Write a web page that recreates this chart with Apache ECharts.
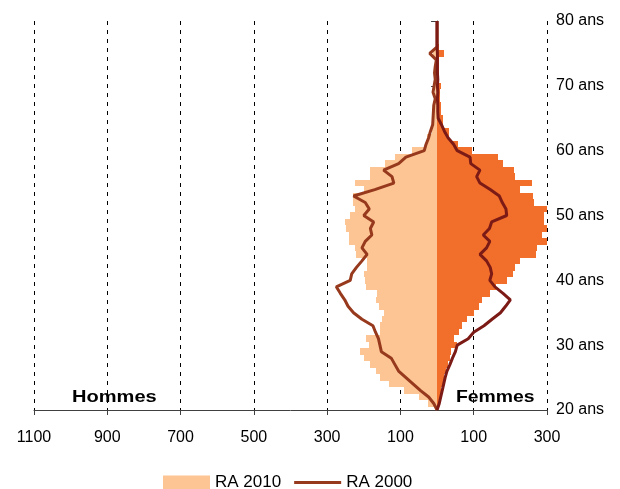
<!DOCTYPE html>
<html>
<head>
<meta charset="utf-8">
<script src="https://cdn.jsdelivr.net/npm/echarts@6/dist/echarts.min.js"></script>
<style>
html,body{margin:0;padding:0;background:#fff;}
#chart{width:620px;height:489px;}
</style>
</head>
<body>
<div id="chart"></div>
<script>
// Ages (one bar / point per year)
const ages = [20,21,22,23,24,25,26,27,28,29,30,31,32,33,34,35,36,37,38,39,40,41,42,43,44,45,46,47,48,49,50,51,52,53,54,55,56,57,58,59,60,61,62,63,64,65,66,67,68,69,70,71,72,73,74,75,76,77,78,79,80];

// RA 2010 - Hommes (left bars)
const hommes2010 = [0,25,50,89,132,155,168,182,200,210,187,193,155,155,150,146,159,168,164,194,196,200,191,191,220,223,241,241,248,250,237,223,230,230,200,223,184,184,141,114,68,30,27,15,12,10,8,8,7,6,6,5,5,4,4,12,3,2,2,1,0];

// RA 2010 - Femmes (right bars)
const femmes2010 = [0,4,8,12,16,20,24,30,35,38,55,46,60,68,82,101,115,122,144,160,191,206,214,226,270,273,299,285,299,291,291,299,265,262,226,258,214,210,180,167,95,58,32,32,15,15,12,10,8,8,12,6,6,5,5,18,4,3,3,2,0];

// RA 2000 - Hommes (left line)
const hommes2000 = [0,9,23,45,65,85,105,115,125,152,156,160,168,175,205,228,243,252,264,275,237,233,220,205,191,205,196,178,182,173,200,185,196,228,170,118,123,146,105,85,35,30,23,18,12,11,10,9,5,11,8,5,7,5,2,20,0,0,0,0,0];

// RA 2000 - Femmes (right line)
const femmes2000 = [0,6,10,14,18,22,27,35,42,50,55,85,100,128,150,173,187,200,180,158,144,149,145,135,117,135,144,126,143,149,190,188,178,170,145,117,108,117,92,90,55,45,30,20,12,3,2,2,1,2,1,2,1,1,1,1,0,0,0,0,0];

// Axis tick labels
const xTicks = [-1100,-900,-700,-500,-300,-100,100,300];
const yTicks = [20,30,40,50,60,70,80];

const COL_H = '#FCC593';
const COL_F = '#F26E2B';
const COL_LH = '#97391D';
const COL_LF = '#7C1B16';
const FONT = "'Liberation Sans', Arial, sans-serif";

function barRenderer(sign, color) {
  return function (params, api) {
    const age = api.value(0);
    const v = api.value(1);
    const p1 = api.coord([0, age + 0.5]);
    const p2 = api.coord([sign * v, age - 0.5]);
    const x1 = Math.round(Math.min(p1[0], p2[0]));
    const x2 = Math.round(Math.max(p1[0], p2[0]));
    const y1 = Math.round(Math.min(p1[1], p2[1]));
    const y2 = Math.round(Math.max(p1[1], p2[1]));
    return {
      type: 'rect',
      shape: { x: x1, y: y1, width: x2 - x1, height: y2 - y1 },
      style: { fill: color }
    };
  };
}

const chart = echarts.init(document.getElementById('chart'), null, { renderer: 'canvas' });

const option = {
  animation: false,
  backgroundColor: '#ffffff',
  textStyle: { fontFamily: FONT },
  grid: { left: 34, right: 73, top: 21, bottom: 79, containLabel: false },
  xAxis: {
    type: 'value',
    min: xTicks[0],
    max: xTicks[xTicks.length - 1],
    interval: 200,
    axisLine: { show: true, lineStyle: { color: '#404040', width: 1 } },
    axisTick: { show: true, inside: false, length: 5, lineStyle: { color: '#404040' } },
    axisLabel: {
      margin: 20,
      color: '#000',
      fontSize: 16,
      fontFamily: FONT,
      formatter: function (v) { return String(Math.abs(v)); }
    },
    splitLine: { show: true, lineStyle: { color: '#000', type: [4, 5], width: 1 } }
  },
  yAxis: {
    type: 'value',
    position: 'right',
    min: yTicks[0],
    max: yTicks[yTicks.length - 1],
    interval: 10,
    axisLine: { show: true, lineStyle: { color: '#404040', width: 1 } },
    axisTick: { show: true, inside: true, length: 6, lineStyle: { color: '#404040' } },
    axisLabel: {
      margin: 9,
      color: '#000',
      fontSize: 16,
      fontFamily: FONT,
      formatter: function (v) { return v + ' ans'; }
    },
    splitLine: { show: false }
  },
  legend: {
    left: 163,
    top: 474,
    padding: 0,
    itemWidth: 47,
    itemHeight: 14,
    itemGap: 13,
    symbolKeepAspect: true,
    textStyle: { fontSize: 17, color: '#000', fontFamily: FONT },
    data: [
      { name: 'RA 2010', icon: 'rect' },
      { name: 'RA 2000', icon: 'path://M0,0 L47,0 L47,3 L0,3 Z' }
    ]
  },
  graphic: [
    { type: 'text', left: 72, top: 389, scaleX: 1.18, style: { text: 'Hommes', font: "bold 17px 'Liberation Sans', Arial, sans-serif", fill: '#000' } },
    { type: 'text', left: 456, top: 389, scaleX: 1.14, style: { text: 'Femmes', font: "bold 17px 'Liberation Sans', Arial, sans-serif", fill: '#000' } }
  ],
  series: [
    {
      name: 'RA 2010', type: 'custom',
      renderItem: barRenderer(-1, COL_H),
      itemStyle: { color: COL_H },
      encode: { x: 1, y: 0 },
      data: ages.map((a, i) => [a, hommes2010[i]]),
      z: 2
    },
    {
      name: 'RA 2010 ', type: 'custom',
      renderItem: barRenderer(1, COL_F),
      itemStyle: { color: COL_F },
      encode: { x: 1, y: 0 },
      data: ages.map((a, i) => [a, femmes2010[i]]),
      z: 2
    },
    {
      name: 'RA 2000', type: 'line',
      showSymbol: false, symbol: 'none',
      itemStyle: { color: COL_LH },
      lineStyle: { color: COL_LH, width: 3 },
      data: ages.map((a, i) => [-hommes2000[i], a]),
      z: 3
    },
    {
      name: 'RA 2000 ', type: 'line',
      showSymbol: false, symbol: 'none',
      itemStyle: { color: COL_LF },
      lineStyle: { color: COL_LF, width: 3 },
      data: ages.map((a, i) => [femmes2000[i], a]),
      z: 4
    }
  ]
};
chart.setOption(option);
</script>
</body>
</html>
